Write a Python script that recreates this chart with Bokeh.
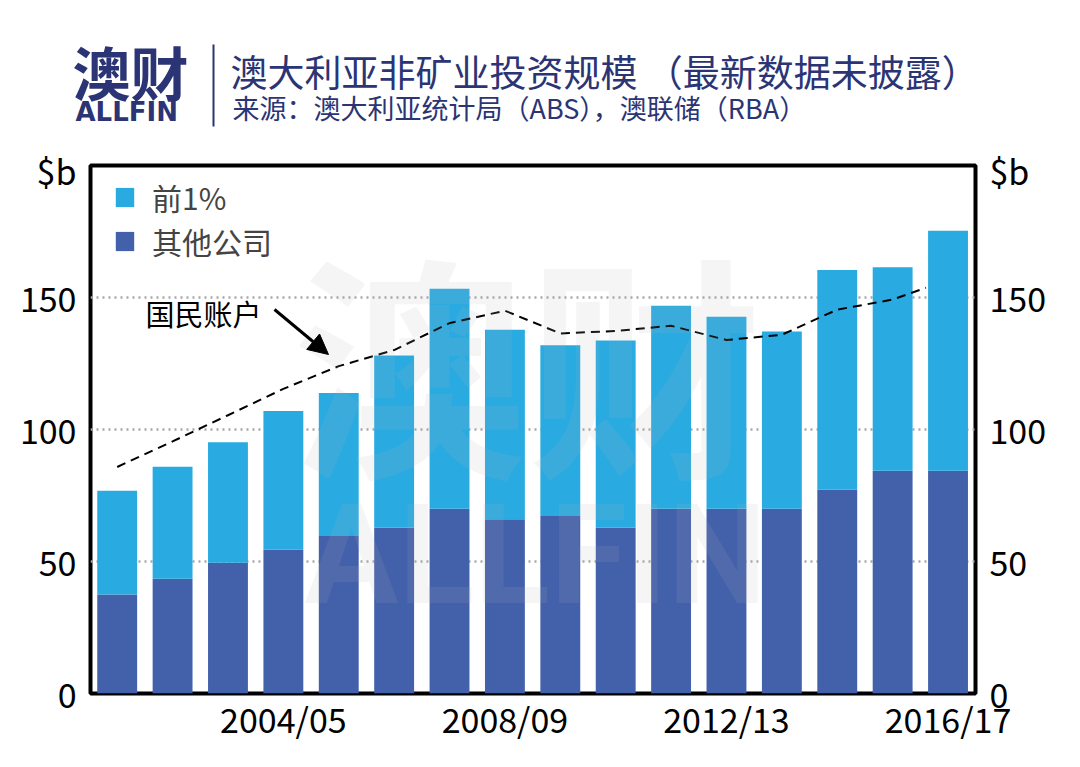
from bokeh.plotting import figure
from bokeh.layouts import column
from bokeh.models import (LinearAxis, Label, Arrow, NormalHead, Range1d, FixedTicker,
                          Legend, LegendItem, Span)
from bokeh.core.properties import value
from bokeh.embed import file_html
from bokeh.resources import INLINE

# ---------------- data ----------------
years = ["2001/02", "2002/03", "2003/04", "2004/05", "2005/06", "2006/07", "2007/08", "2008/09",
         "2009/10", "2010/11", "2011/12", "2012/13", "2013/14", "2014/15", "2015/16", "2016/17"]
other_firms = [37.5, 43.5, 49.5, 54.5, 59.7, 62.8, 70.0, 66.0, 67.2, 62.8, 70.0, 70.0, 70.0, 77.2, 84.4, 84.4]
total_invest = [76.8, 85.9, 95.2, 107.0, 113.8, 128.0, 153.3, 137.8, 131.9, 133.7, 146.9, 142.7, 137.1, 160.4, 161.5, 175.3]
top1 = [t - o for t, o in zip(total_invest, other_firms)]
nat_x = [0, 1, 2, 3, 4, 5, 6, 7, 8, 9, 10, 11, 12, 13, 14, 14.6]
nat_accounts = [85.8, 95.5, 105.4, 115.4, 124.0, 130.1, 140.3, 145.0, 136.4, 137.3, 139.3, 133.9, 135.9, 145.4, 149.2, 153.7]
y_ticks = [0, 50, 100, 150]
unit_tick = 198
unit_label = "$b"
x_tick_idx = [3, 7, 11, 15]

logo = "澳财"
logo_en = "ALLFIN"
title = "澳大利亚非矿业投资规模 （最新数据未披露）"
subtitle = "来源：澳大利亚统计局（ABS），澳联储（RBA）"

LIGHT = "#29abe2"
DARK = "#4360ab"
NAVY = "#2b3474"
CJK = "Noto Sans CJK SC"

# ---------------- geometry ----------------
W, H = 1080, 767
HEAD_H = 140
FL, FR, FT, FB = 90, 975, 165, 693
X0, X1 = -0.482, 15.496
Y0, Y1 = 0, 200


def dx(px):
    return X0 + (px - FL) * (X1 - X0) / (FR - FL)


def dy(py):
    return Y0 + (FB - py) * (Y1 - Y0) / (FB - FT)


# ---------------- header ----------------
hd = figure(width=W, height=HEAD_H, output_backend="svg", toolbar_location=None,
            x_range=Range1d(0, W), y_range=Range1d(HEAD_H, 0),
            min_border=0, x_axis_location=None, y_axis_location=None)
hd.frame_align = False
hd.outline_line_color = None
hd.xgrid.visible = False
hd.ygrid.visible = False
hd.text(x=[72], y=[70], text=[logo], text_font=value(CJK), text_font_style="bold",
        text_font_size="58px", text_color=NAVY, text_align="left", text_baseline="middle")
hd.text(x=[75], y=[111], text=[logo_en], text_font=value("DejaVu Sans"), text_font_style="bold",
        text_font_size="26px", text_color=NAVY, text_align="left", text_baseline="middle")
hd.text(x=[230], y=[70], text=[title], text_font=value(CJK), text_font_size="37px",
        text_color=NAVY, text_align="left", text_baseline="middle")
hd.text(x=[232], y=[107], text=[subtitle], text_font=value(CJK), text_font_size="27px",
        text_color=NAVY, text_align="left", text_baseline="middle")
hd.line([213, 213], [44, 126], line_color=NAVY, line_width=2)

# ---------------- chart ----------------
p = figure(width=W, height=H - HEAD_H, output_backend="svg", toolbar_location=None,
           x_range=Range1d(X0, X1), y_range=Range1d(Y0, Y1),
           min_border_left=FL, min_border_right=W - FR, min_border_top=FT - HEAD_H,
           min_border_bottom=H - FB, y_axis_location=None, x_axis_location=None)
p.frame_align = False
p.outline_line_color = "black"
p.outline_line_width = 4
p.xgrid.visible = False
p.ygrid.visible = False

for v in y_ticks[1:]:
    p.add_layout(Span(location=v, dimension="width", line_color="#a8a8a8", line_width=2.5,
                      line_dash="2 4", level="underlay"))

src = dict(x=list(range(len(years))), other=other_firms, top=top1)
r = p.vbar_stack(["other", "top"], x="x", width=0.72, source=src, color=[DARK, LIGHT], line_color=None)

p.line(nat_x, nat_accounts, line_color="black", line_width=2, line_dash="9 6")

# watermark
p.add_layout(Label(x=dx(527), y=dy(527), text=logo, text_font=CJK, text_font_style="bold",
                   text_font_size="235px", text_color="#b0b0b0", text_alpha=0.13, text_align="center",
                   text_baseline="bottom"))
p.add_layout(Label(x=dx(535), y=dy(636), text=logo_en, text_font="Roboto", text_font_style="bold",
                   text_font_size="140px", text_color="#b0b0b0", text_alpha=0.13, text_align="center",
                   text_baseline="bottom"))

legend = Legend(items=[LegendItem(label="前1%", renderers=[r[1]]),
                       LegendItem(label="其他公司", renderers=[r[0]])],
                location=(23, 430), padding=0, margin=0, spacing=0,
                glyph_width=23, glyph_height=24, label_standoff=16,
                label_text_font=CJK, label_text_font_size="30px", label_height=24,
                border_line_color=None, background_fill_alpha=0)
p.add_layout(legend)

# axes
y_all = y_ticks + [unit_tick]
ax_l = LinearAxis(ticker=FixedTicker(ticks=y_all), major_label_overrides={unit_tick: unit_label})
ax_r = LinearAxis(ticker=FixedTicker(ticks=y_all), major_label_overrides={unit_tick: unit_label})
ax_b = LinearAxis(ticker=FixedTicker(ticks=x_tick_idx),
                  major_label_overrides={i: years[i] for i in x_tick_idx})
for ax in (ax_l, ax_r, ax_b):
    ax.axis_line_color = None
    ax.major_tick_line_color = None
    ax.minor_tick_line_color = None
    ax.major_tick_in = 0
    ax.major_tick_out = 0
    ax.major_label_text_font = CJK
    ax.major_label_text_font_size = "34px"
    ax.major_label_text_color = "black"
ax_l.major_label_standoff = 14
ax_r.major_label_standoff = 14
ax_b.major_label_standoff = 0
p.add_layout(ax_l, "left")
p.add_layout(ax_r, "right")
p.add_layout(ax_b, "below")

# annotation
p.add_layout(Label(x=dx(145), y=dy(312), text="国民账户", text_font=CJK, text_font_size="29px",
                   text_align="left", text_baseline="middle", text_color="black"))
p.add_layout(Arrow(x_start=dx(274), y_start=dy(309), x_end=dx(328), y_end=dy(354),
                   line_width=3, line_color="black",
                   end=NormalHead(size=20, fill_color="black", line_color="black")))

open("out.html", "w").write(file_html(column(hd, p, spacing=0), INLINE))
